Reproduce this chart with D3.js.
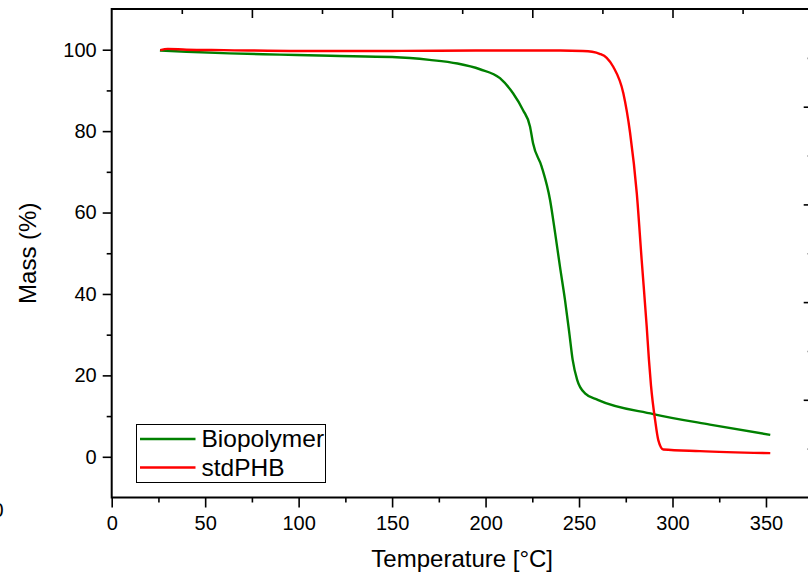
<!DOCTYPE html>
<html>
<head>
<meta charset="utf-8">
<script src="https://cdn.jsdelivr.net/npm/d3@7"></script>
<style>
  body { margin: 0; background: #fff; }
  svg { display: block; overflow: hidden; }
  text { font-family: "Liberation Sans", Arial, sans-serif; fill: #000; }
</style>
</head>
<body>
<div id="my_dataviz"></div>
<script>
// temperature (°C) / mass (%)
var bioTemp = [25.8, 40, 63, 90, 117, 150, 170, 185, 197, 207.7, 214.7, 220, 223.8, 225.4, 230, 234.5, 237.2, 239.8, 242.5, 244.8, 246.6, 249, 253.2, 260, 289.7, 320, 352.3];
var bioMass = [99.8, 99.5, 99.1, 98.8, 98.5, 98.2, 97.5, 96.6, 95.2, 93.0, 89.3, 85.2, 81.1, 77.0, 71.3, 63.1, 55.0, 46.7, 38.5, 30.4, 23.8, 18.9, 15.6, 14.0, 10.5, 7.9, 5.4];

var phbTemp = [26, 30, 40, 60, 100, 150, 200, 240, 252, 257, 261, 264.8, 268.3, 273.7, 277.3, 280.9, 283.5, 286.2, 287.4, 288.5, 290.7, 292.4, 295.1, 314.7, 352.3];
var phbMass = [99.9, 100.2, 100.0, 99.9, 99.7, 99.7, 99.8, 99.8, 99.7, 99.5, 99.0, 98.0, 95.8, 89.3, 79.6, 64.7, 48.4, 32.0, 23.8, 17.5, 9.0, 4.1, 1.8, 1.4, 0.9];

var seriesNames = ["Biopolymer", "stdPHB"];
var seriesColors = ["#008000", "#ff0000"];

var xTicks = [0, 50, 100, 150, 200, 250, 300, 350];
var xMinor = [25, 75, 125, 175, 225, 275, 325, 375];
var yTicks = [0, 20, 40, 60, 80, 100];
var yMinor = [10, 30, 50, 70, 90];

// set the dimensions and margins of the graph
var margin = {top: 9, left: 111.7},
    width = 701,
    height = 488.5;

var svg = d3.select("#my_dataviz")
  .append("svg")
    .attr("width", 808)
    .attr("height", 576);

var g = svg.append("g")
    .attr("transform", "translate(" + margin.left + "," + margin.top + ")");

var x = d3.scaleLinear().domain([0, 375]).range([0, width]);
var y = d3.scaleLinear().domain([-10, 110]).range([height, 0]);
// the cut-off secondary axes (top / right) only show their ticks
var xTop = d3.scaleLinear().domain([0, 10]).range([0, width]);
var yRight = d3.scaleLinear().domain([0, 10]).range([height, 0]);

function styleAxis(sel) {
  sel.selectAll(".domain").remove();
  sel.selectAll(".tick line").attr("stroke", "#000").attr("stroke-width", 1.6);
  sel.selectAll(".tick text")
    .style("font-family", "'Liberation Sans', Arial, sans-serif")
    .style("font-size", "20px")
    .attr("fill", "#000");
}

// bottom axis
g.append("g").attr("transform", "translate(0," + height + ")")
  .call(d3.axisBottom(x).tickValues(xTicks).tickSize(10).tickPadding(8).tickFormat(d3.format("d")))
  .call(styleAxis);
g.append("g").attr("transform", "translate(0," + height + ")")
  .call(d3.axisBottom(x).tickValues(xMinor).tickSize(5).tickFormat(""))
  .call(styleAxis);

// left axis
g.append("g")
  .call(d3.axisLeft(y).tickValues(yTicks).tickSize(9).tickPadding(6).tickFormat(d3.format("d")))
  .call(styleAxis);
g.append("g")
  .call(d3.axisLeft(y).tickValues(yMinor).tickSize(5).tickFormat(""))
  .call(styleAxis);

// top axis, ticks pointing in
g.append("g")
  .call(d3.axisBottom(xTop).tickValues([2, 4, 6, 8]).tickSize(9).tickFormat(""))
  .call(styleAxis);
g.append("g")
  .call(d3.axisBottom(xTop).tickValues([1, 3, 5, 7, 9]).tickSize(5).tickFormat(""))
  .call(styleAxis);

// right axis, ticks pointing in
g.append("g").attr("transform", "translate(" + width + ",0)")
  .call(d3.axisLeft(yRight).tickValues([2, 4, 6, 8]).tickSize(9).tickFormat(""))
  .call(styleAxis);
g.append("g").attr("transform", "translate(" + width + ",0)")
  .call(d3.axisLeft(yRight).tickValues([1, 3, 5, 7, 9]).tickSize(5).tickFormat(""))
  .call(styleAxis);

// frame
g.append("rect")
  .attr("width", width).attr("height", height)
  .attr("fill", "none").attr("stroke", "#000").attr("stroke-width", 2);

// curves
var line = d3.line()
  .x(function(d) { return x(d[0]); })
  .y(function(d) { return y(d[1]); })
  .curve(d3.curveMonotoneX);

var series = [
  d3.zip(bioTemp, bioMass),
  d3.zip(phbTemp, phbMass)
];

series.forEach(function(s, i) {
  g.append("path")
    .datum(s)
    .attr("d", line)
    .attr("fill", "none")
    .attr("stroke", seriesColors[i])
    .attr("stroke-width", 2.4);
});

// legend
var legend = svg.append("g").attr("transform", "translate(136.5,424.5)");
legend.append("rect")
  .attr("width", 189).attr("height", 58)
  .attr("fill", "#fff").attr("stroke", "#000").attr("stroke-width", 1);
var items = legend.selectAll(".item")
  .data(seriesNames)
  .enter().append("g")
  .attr("transform", function(d, i) { return "translate(0," + (14.5 + i * 28.5) + ")"; });
items.append("line")
  .attr("x1", 3.5).attr("x2", 59)
  .attr("stroke", function(d, i) { return seriesColors[i]; })
  .attr("stroke-width", 2.4);
items.append("text")
  .attr("x", 65).attr("y", 8)
  .style("font-size", "24.5px")
  .text(function(d) { return d; });

// axis titles
svg.append("text")
  .attr("x", margin.left + x(187.5)).attr("y", 567)
  .attr("text-anchor", "middle")
  .style("font-size", "24px")
  .text("Temperature [°C]");

svg.append("text")
  .attr("transform", "translate(36," + (margin.top + y(50)) + ") rotate(-90)")
  .attr("text-anchor", "middle")
  .style("font-size", "24px")
  .text("Mass (%)");

// stray label of the neighbouring panel, cut by the edge
svg.append("text")
  .attr("x", 3.5).attr("y", 517)
  .attr("text-anchor", "end")
  .style("font-size", "20px")
  .text("0");
</script>
</body>
</html>
